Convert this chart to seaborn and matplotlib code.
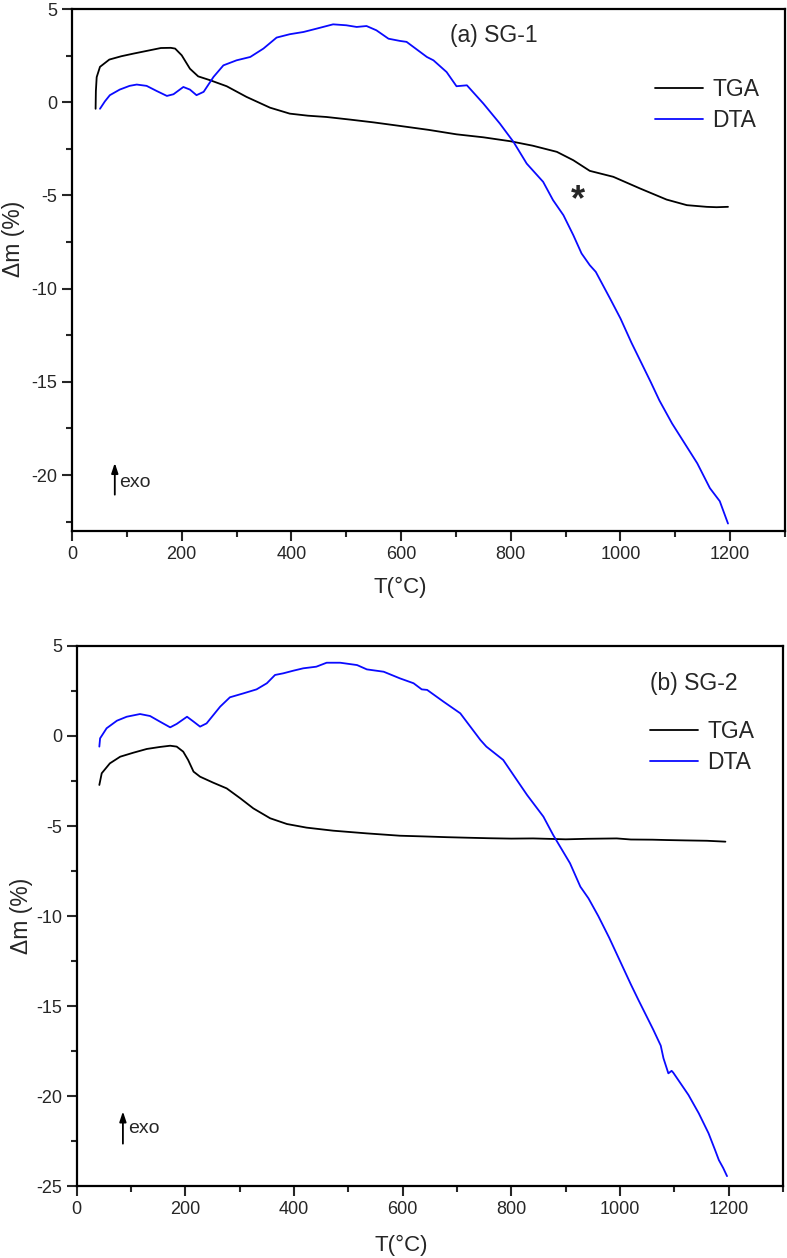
import numpy as np
import pandas as pd
import matplotlib
matplotlib.use("Agg")
import matplotlib.pyplot as plt
import seaborn as sns
from matplotlib.ticker import MultipleLocator

sns.set_style("white")
plt.rcParams['font.family'] = ['Liberation Sans', 'DejaVu Sans']
plt.rcParams['mathtext.default'] = 'regular'
plt.rcParams['axes.unicode_minus'] = False

# (a) SG-1 TGA
t_a_tga = [43, 43.5, 45, 51, 68, 90, 112, 142, 162, 180, 188, 200, 215, 230, 252, 282, 318, 361, 397, 430, 464,
           507, 550, 598, 650, 701, 750, 799, 840, 884, 914, 944, 987, 1036, 1084, 1121, 1157, 1175, 1196]
v_a_tga = [-0.35, 0.6, 1.35, 1.9, 2.29, 2.47, 2.61, 2.79, 2.91, 2.92, 2.88, 2.52, 1.8, 1.39, 1.18, 0.86, 0.29, -0.29, -0.61, -0.72, -0.79,
           -0.93, -1.08, -1.27, -1.48, -1.72, -1.88, -2.09, -2.33, -2.66, -3.11, -3.68, -4.0, -4.63, -5.22, -5.52, -5.61, -5.63, -5.61]

# (a) SG-1 DTA
t_a_dta = [51, 60, 69, 87, 105, 118, 136, 154, 173, 185, 203, 215, 227, 240, 258, 276, 300, 325, 349, 373, 397, 422, 446, 476,
           500, 519, 537, 555, 577, 598, 610, 647, 659, 683, 701, 720, 750, 780, 805, 829, 859, 877, 896, 914, 929, 944,
           955, 981, 1000, 1020, 1040, 1055, 1071, 1094, 1117, 1140, 1163, 1181, 1196]
v_a_dta = [-0.35, 0.05, 0.38, 0.68, 0.88, 0.95, 0.88, 0.61, 0.34, 0.43, 0.82, 0.68, 0.38, 0.56, 1.36, 1.98, 2.25, 2.43, 2.88, 3.47,
           3.65, 3.77, 3.95, 4.18, 4.13, 4.04, 4.09, 3.86, 3.41, 3.29, 3.24, 2.43, 2.25, 1.62, 0.86, 0.91, -0.07, -1.14, -2.13,
           -3.29, -4.27, -5.25, -6.06, -7.13, -8.11, -8.74, -9.1, -10.53, -11.6, -12.9, -14.1, -15.0, -16.0, -17.23, -18.3,
           -19.37, -20.7, -21.4, -22.6]

# (b) SG-2 TGA
t_b_tga = [41.6, 46, 61, 80, 104, 129, 153, 172, 184, 196, 205, 215, 227, 251, 276, 301, 325, 356, 387, 423, 472, 534, 595,
           640, 680, 718, 760, 800, 840, 877, 900, 940, 994, 1020, 1060, 1086, 1120, 1160, 1194]
v_b_tga = [-2.72, -2.07, -1.52, -1.15, -0.93, -0.72, -0.61, -0.54, -0.59, -0.87, -1.33, -1.98, -2.26, -2.59, -2.91, -3.46,
           -4.02, -4.57, -4.89, -5.09, -5.26, -5.41, -5.54, -5.58, -5.62, -5.65, -5.68, -5.7, -5.69, -5.72, -5.74, -5.71,
           -5.69, -5.75, -5.76, -5.78, -5.8, -5.82, -5.87]

# (b) SG-2 DTA
t_b_dta = [41.6, 43, 55, 74, 92, 116.5, 135, 153, 172, 184, 203, 215, 227, 239, 264, 282, 307, 331, 350, 365, 380, 399, 417,
           441, 460, 485, 516, 534, 565, 595, 620, 635, 645, 675, 706, 743, 754, 785, 810, 829, 859, 877, 908, 927, 942,
           960, 980, 1000, 1020, 1034, 1061, 1075, 1080, 1089, 1095, 1098, 1126, 1145, 1163, 1175, 1182, 1190, 1197]
v_b_dta = [-0.59, -0.13, 0.43, 0.85, 1.07, 1.22, 1.11, 0.8, 0.48, 0.67, 1.07, 0.8, 0.52, 0.7, 1.63, 2.15, 2.37, 2.59, 2.93,
           3.39, 3.48, 3.63, 3.76, 3.85, 4.07, 4.07, 3.94, 3.7, 3.57, 3.2, 2.93, 2.59, 2.56, 1.91, 1.26, -0.22, -0.59, -1.33,
           -2.44, -3.28, -4.48, -5.5, -7.07, -8.37, -9.02, -10.0, -11.2, -12.5, -13.8, -14.67, -16.3, -17.2, -17.9, -18.74,
           -18.6, -18.7, -19.94, -20.96, -22.07, -23.0, -23.56, -24.0, -24.45]

panels = [
    dict(title="(a) SG-1", tga=(t_a_tga, v_a_tga), dta=(t_a_dta, v_a_dta), ylim=(-23, 5),
         rect=[0.0915, 0.5779, 0.906, 0.4149], leg=(0.818, 0.867), title_xy=(0.53, 0.95),
         arrow=(78, -21.2, -19.2), exo=(86, -20.4), ylab=(-0.066, 0.56), xlab_y=-0.088),
    dict(title="(b) SG-2", tga=(t_b_tga, v_b_tga), dta=(t_b_dta, v_b_dta), ylim=(-25, 5),
         rect=[0.0975, 0.0572, 0.8974, 0.4293], leg=(0.812, 0.863), title_xy=(0.812, 0.931),
         arrow=(85, -22.8, -20.7), exo=(94, -21.8), ylab=(-0.062, 0.5), xlab_y=-0.09),
]

fig = plt.figure(figsize=(7.87, 12.58), dpi=100)

for i, p in enumerate(panels):
    ax = fig.add_axes(p['rect'])
    df = pd.concat([
        pd.DataFrame({'T': p['tga'][0], 'v': p['tga'][1], 'curve': 'TGA'}),
        pd.DataFrame({'T': p['dta'][0], 'v': p['dta'][1], 'curve': 'DTA'}),
    ])
    sns.lineplot(data=df, x='T', y='v', hue='curve', palette={'TGA': 'black', 'DTA': '#0a0aff'},
                 sort=False, estimator=None, lw=1.3, ax=ax)
    ax.set_xlim(0, 1300)
    ax.set_ylim(*p['ylim'])
    ax.xaxis.set_major_locator(MultipleLocator(200))
    ax.xaxis.set_minor_locator(MultipleLocator(100))
    ax.yaxis.set_major_locator(MultipleLocator(5))
    ax.yaxis.set_minor_locator(MultipleLocator(2.5))
    ax.tick_params(which='major', direction='out', length=7, width=1.5, labelsize=13, bottom=True, left=True)
    ax.tick_params(which='minor', direction='out', length=4, width=1.5, bottom=True, left=True)
    for s in ax.spines.values():
        s.set_linewidth(1.6)
        s.set_color('black')
    ax.set_xlabel("T(°C)", fontsize=16)
    ax.xaxis.set_label_coords(0.46, p['xlab_y'])
    ax.set_ylabel("Δm (%)", fontsize=16.5)
    ax.yaxis.set_label_coords(*p['ylab'])
    ax.text(*p['title_xy'], p['title'], transform=ax.transAxes, fontsize=16.5, ha='left', va='center')
    ax.legend(loc='upper left', bbox_to_anchor=p['leg'], frameon=False, fontsize=16.5,
              handlelength=2.1, handletextpad=0.4, labelspacing=0.35, borderpad=0, borderaxespad=0)
    x0, y0, y1 = p['arrow']
    ax.annotate('', xy=(x0, y1), xytext=(x0, y0),
                arrowprops=dict(arrowstyle='-|>,head_length=0.6,head_width=0.2', color='black', lw=1.3))
    ax.text(*p['exo'], "exo", fontsize=14, ha='left', va='center')
    if i == 0:
        ax.text(922, -5.3, "*", fontsize=26, ha='center', va='center', fontweight='bold')

fig.savefig("out.png", dpi=100)
